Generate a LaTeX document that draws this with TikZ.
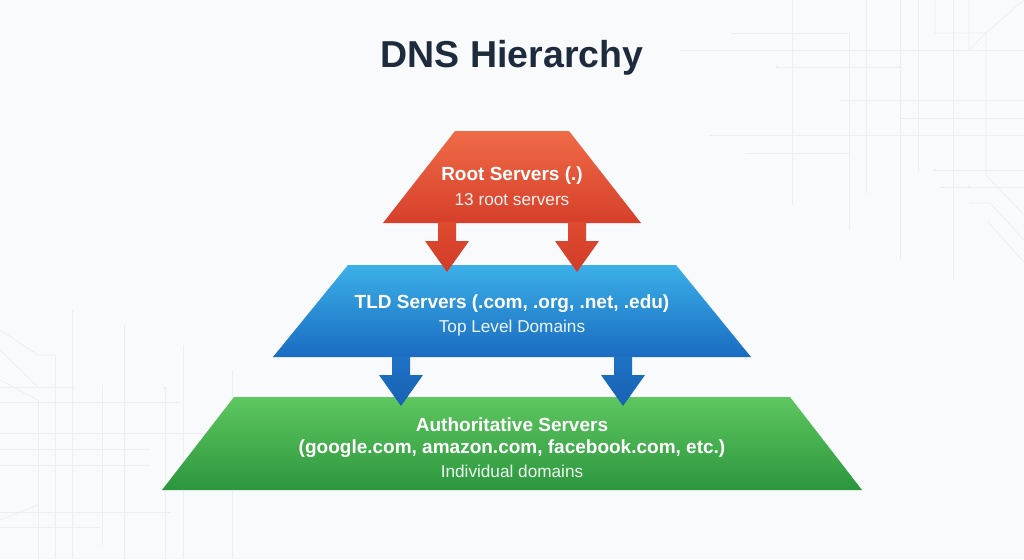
\documentclass[tikz,border=0pt]{standalone}
\usepackage{fontspec}
\setmainfont{Liberation Sans}
\definecolor{bgc}{HTML}{F8FAFB}
\definecolor{gridc}{HTML}{ECEFF2}
\definecolor{titlec}{HTML}{1E2B3C}
\definecolor{redTop}{HTML}{EF6B47}
\definecolor{redBot}{HTML}{D63F2A}
\definecolor{redArrTop}{HTML}{DE4A30}
\definecolor{redArrBot}{HTML}{D23C28}
\definecolor{blueTop}{HTML}{3BB0E7}
\definecolor{blueBot}{HTML}{1A6BC1}
\definecolor{blueArrTop}{HTML}{1E72C4}
\definecolor{blueArrBot}{HTML}{1762B4}
\definecolor{greenTop}{HTML}{5EC75F}
\definecolor{greenBot}{HTML}{2C963E}
\tikzset{
  gridline/.style={draw=gridc, line width=0.7pt},
  griddot/.style={fill=gridc},
  titletext/.style={font=\fontsize{37.5}{42}\selectfont\bfseries, text=titlec, anchor=base, inner sep=0pt},
  headtext/.style={font=\fontsize{19}{22}\selectfont\bfseries, text=white, anchor=base, inner sep=0pt},
  subtext/.style={font=\fontsize{17.2}{20}\selectfont, text=white, text opacity=0.92, anchor=base, inner sep=0pt},
  pics/downarrow/.style 2 args={code={
    \shade[top color=#1, bottom color=#2]
      (-9,0) -- (9,0) -- (9,19) -- (22,19) -- (0,50) -- (-22,19) -- (-9,19) -- cycle;
  }}
}
\begin{document}
\begin{tikzpicture}[x=1pt,y=-1pt]
\useasboundingbox (0,0) rectangle (1024,559);
\fill[bgc] (0,0) rectangle (1024,559);

% faint circuit lines, top right
\draw[gridline] (792,0) -- (792,205);
\draw[gridline] (731,33) -- (849,33) -- (849,230);
\draw[gridline] (866,0) -- (866,193);
\draw[gridline] (900,0) -- (900,260);
\draw[gridline] (918,0) -- (918,172);
\draw[gridline] (935,0) -- (935,33) -- (986,33) -- (1024,0);
\draw[gridline] (953,0) -- (953,280);
\draw[gridline] (969,0) -- (969,50) -- (986,33);
\draw[gridline] (986,33) -- (986,175) -- (1024,215);
\draw[gridline] (680,50) -- (1024,50);
\draw[gridline] (777,67) -- (900,67);
\fill[griddot] (777,67) circle (1.8);
\fill[griddot] (900,67) circle (1.8);
\draw[gridline] (840,100) -- (1024,100);
\draw[gridline] (900,118) -- (1024,118);
\draw[gridline] (710,135) -- (1024,135);
\draw[gridline] (745,153) -- (849,153);
\draw[gridline] (935,170) -- (1024,170);
\fill[griddot] (935,170) circle (1.8);
\draw[gridline] (940,187) -- (1024,187);
\fill[griddot] (969,187) circle (1.8);
\draw[gridline] (969,203) -- (990,203) -- (1024,240);
\draw[gridline] (988,222) -- (1024,262);

% faint circuit lines, bottom left
\draw[gridline] (38,400) -- (38,559);
\draw[gridline] (55,355) -- (55,559);
\draw[gridline] (72,310) -- (72,559);
\draw[gridline] (102,385) -- (102,545);
\draw[gridline] (124,325) -- (124,559);
\draw[gridline] (165,388) -- (165,559);
\draw[gridline] (183,345) -- (183,559);
\draw[gridline] (232,370) -- (232,559);
\draw[gridline] (0,387) -- (75,387);
\draw[gridline] (0,402) -- (180,402);
\draw[gridline] (0,433) -- (240,433);
\draw[gridline] (0,449) -- (150,449);
\draw[gridline] (0,465) -- (150,465);
\draw[gridline] (0,512) -- (170,512);
\draw[gridline] (0,527) -- (100,527);
\draw[gridline] (0,330) -- (38,355) -- (55,355);
\draw[gridline] (0,350) -- (38,387);
\draw[gridline] (0,380) -- (38,400);
\draw[gridline] (0,520) -- (38,505);
\fill[griddot] (165,388) circle (1.8);

% tiers
\coordinate (rootTL) at (455,131);
\coordinate (rootTR) at (569,131);
\coordinate (rootBR) at (641,223);
\coordinate (rootBL) at (383,223);
\coordinate (tldTL) at (348,265);
\coordinate (tldTR) at (676,265);
\coordinate (tldBR) at (751,357);
\coordinate (tldBL) at (273,357);
\coordinate (authTL) at (234,397);
\coordinate (authTR) at (790,397);
\coordinate (authBR) at (862,490);
\coordinate (authBL) at (162,490);

\shade[top color=greenTop, bottom color=greenBot]
  (authTL) -- (authTR) -- (authBR) -- (authBL) -- cycle;
\shade[top color=blueTop, bottom color=blueBot]
  (tldTL) -- (tldTR) -- (tldBR) -- (tldBL) -- cycle;
\shade[top color=redTop, bottom color=redBot]
  (rootTL) -- (rootTR) -- (rootBR) -- (rootBL) -- cycle;

% arrows
\coordinate (ra1) at (447,222);
\coordinate (ra2) at (577,222);
\coordinate (ba1) at (401,356);
\coordinate (ba2) at (623,356);
\pic at (ra1) {downarrow={redArrTop}{redArrBot}};
\pic at (ra2) {downarrow={redArrTop}{redArrBot}};
\pic at (ba1) {downarrow={blueArrTop}{blueArrBot}};
\pic at (ba2) {downarrow={blueArrTop}{blueArrBot}};

% texts
\node[titletext] (title) at (512,68) {DNS Hierarchy};
\node[headtext] (roothead) at (512,180) {Root Servers (.)};
\node[subtext] (rootsub) at (512,205) {13 root servers};
\node[headtext] (tldhead) at (512,308) {TLD Servers (.com, .org, .net, .edu)};
\node[subtext] (tldsub) at (512,332) {Top Level Domains};
\node[headtext] (authhead) at (512,431) {Authoritative Servers};
\node[headtext] (authlist) at (512,453) {(google.com, amazon.com, facebook.com, etc.)};
\node[subtext] (authsub) at (512,477) {Individual domains};
\end{tikzpicture}
\end{document}
